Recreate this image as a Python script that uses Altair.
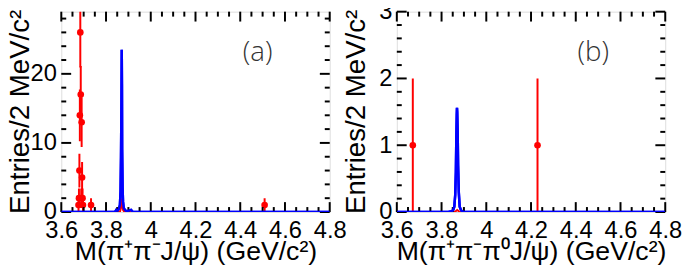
import altair as alt
import pandas as pd

# ---------------- data ----------------
# panel (a): M(pi+ pi- J/psi) data points (bin centre, entries)
a_x = [3.677, 3.679, 3.681, 3.683, 3.685, 3.687, 3.689, 3.691, 3.693, 3.695, 3.697, 3.733, 4.509]
a_n = [1, 2, 6, 14, 26, 17, 2, 13, 5, 2, 1, 1, 1]
# panel (b): M(pi+ pi- pi0 J/psi) data points
b_x = [3.6715, 4.229]
b_n = [1, 1]

# blue signal shape, panel (a)
blue_a_x = [3.600, 3.840, 3.846, 3.852, 3.858, 3.862, 3.865, 3.867, 3.869, 3.8703, 3.8712,
            3.872, 3.874, 3.876, 3.879, 3.884, 3.892, 3.912, 3.920, 4.800]
blue_a_y = [0, 0, 0.3, 0.2, 0.5, 1.0, 3.0, 8.0, 16.0, 23.5, 18.5,
            9.0, 3.5, 1.5, 0.6, 0.3, 0.1, 0.3, 0, 0]
# red curve, panel (a)
red_a_x = [3.600, 3.862, 3.866, 3.869, 3.871, 3.873, 3.876, 3.882, 4.800]
red_a_y = [0, 0, 0.5, 1.5, 1.9, 1.2, 0.3, 0, 0]

# blue signal shape, panel (b)
blue_b_x = [3.600, 3.830, 3.845, 3.852, 3.857, 3.861, 3.864, 3.866, 3.868, 3.869, 3.870,
            3.872, 3.874, 3.877, 3.881, 3.888, 3.900, 4.800]
blue_b_y = [0, 0, 0.01, 0.03, 0.08, 0.25, 0.6, 1.1, 1.45, 1.56, 1.5,
            1.2, 0.7, 0.3, 0.08, 0.02, 0, 0]
# red curve, panel (b)
red_b_x = [3.600, 3.860, 3.866, 3.870, 3.874, 3.880, 4.800]
red_b_y = [0, 0, 0.02, 0.03, 0.02, 0, 0]

# axis ticks
x_major = [3.6, 3.8, 4.0, 4.2, 4.4, 4.6, 4.8]
x_minor = [3.65, 3.7, 3.75, 3.85, 3.9, 3.95, 4.05, 4.1, 4.15, 4.25, 4.3, 4.35,
           4.45, 4.5, 4.55, 4.65, 4.7, 4.75]
ya_major = [0, 10, 20]
ya_minor = [2, 4, 6, 8, 12, 14, 16, 18, 22, 24, 26, 28]
yb_major = [0, 1, 2, 3]
yb_minor = [0.2, 0.4, 0.6, 0.8, 1.2, 1.4, 1.6, 1.8, 2.2, 2.4, 2.6, 2.8]

W, H = 272, 203
FONT = "Liberation Sans"
RED = "#ff0000"
BLUE = "#0000ff"


def panel(px, pn, bx, by, rx, ry, ymaj, ymin, ymax, label, xtitle):
    pts = pd.DataFrame({"x": px, "y": pn})
    pts["lo"] = pts["y"] - pts["y"] ** 0.5
    pts["hi"] = pts["y"] + pts["y"] ** 0.5
    blue = pd.DataFrame({"x": bx, "y": by})
    red = pd.DataFrame({"x": rx, "y": ry})

    xs = alt.Scale(domain=[3.6, 4.8], nice=False, zero=False)
    ys = alt.Scale(domain=[0, ymax], nice=False)
    xaxis = alt.Axis(values=x_major, format=".1~f", title=xtitle, grid=False, ticks=False,
                     domain=False, labelFontSize=24, labelFont=FONT, labelColor="black",
                     labelFlush=False, labelOverlap=False, labelPadding=7,
                     titleFont=FONT, titleFontSize=27, titleFontWeight="normal",
                     titleColor="black", titleX=W / 2, titleY=48, titleAlign="center",
                     titleBaseline="alphabetic")
    yaxis = alt.Axis(values=ymaj, format=".1~f", title="Entries/2 MeV/c²", grid=False,
                     ticks=False, domain=False, labelFontSize=24, labelFont=FONT,
                     labelColor="black", labelFlush=False, labelOverlap=False,
                     labelPadding=5, titleFont=FONT, titleFontSize=28,
                     titleFontWeight="normal", titleColor="black", titleX=-33,
                     titleY=101, titleAngle=270, titleAlign="center",
                     titleBaseline="alphabetic")

    X = lambda f: alt.X(f, type="quantitative", scale=xs, axis=xaxis)
    Y = lambda f: alt.Y(f, type="quantitative", scale=ys, axis=yaxis)

    err = alt.Chart(pts).mark_rule(color=RED, strokeWidth=2, clip=True).encode(
        x=X("x"), y=Y("lo"), y2="hi")
    dots = alt.Chart(pts).mark_circle(color=RED, size=45, opacity=1, clip=True).encode(
        x=X("x"), y=Y("y"))
    redl = alt.Chart(red).mark_line(color=RED, strokeWidth=2, clip=True).encode(
        x=X("x"), y=Y("y"))
    bluel = alt.Chart(blue).mark_line(color=BLUE, strokeWidth=2.5, clip=True).encode(
        x=X("x"), y=Y("y"))

    layers = [err, dots, bluel, redl]
    xmaj = pd.DataFrame({"v": x_major})
    xmin = pd.DataFrame({"v": x_minor})
    ymj = pd.DataFrame({"v": ymaj})
    ymn = pd.DataFrame({"v": ymin})
    for df, L in ((xmaj, 10), (xmin, 5)):
        layers.append(alt.Chart(df).mark_rule(color="black", strokeWidth=2).encode(
            x=X("v"), y=alt.value(H), y2=alt.value(H - L)))
        layers.append(alt.Chart(df).mark_rule(color="black", strokeWidth=2).encode(
            x=X("v"), y=alt.value(0), y2=alt.value(L)))
    for df, L in ((ymj, 10), (ymn, 5)):
        layers.append(alt.Chart(df).mark_rule(color="black", strokeWidth=2).encode(
            y=Y("v"), x=alt.value(0), x2=alt.value(L)))
        layers.append(alt.Chart(df).mark_rule(color="black", strokeWidth=2).encode(
            y=Y("v"), x=alt.value(W), x2=alt.value(W - L)))
    # re-draw blue line over the bottom frame
    layers.append(bluel)
    txt = alt.Chart(pd.DataFrame({"t": [label]})).mark_text(
        font="Open Sans", fontSize=28, fontWeight=300, color="#333333",
        align="center", baseline="middle").encode(
        text="t:N", x=alt.value(199), y=alt.value(42))
    layers.append(txt)
    return alt.layer(*layers).properties(width=W, height=H)


pa = panel(a_x, a_n, blue_a_x, blue_a_y, red_a_x, red_a_y, ya_major, ya_minor, 29,
           "(a)", "M(π⁺π⁻J/ψ) (GeV/c²)")
pb = panel(b_x, b_n, blue_b_x, blue_b_y, red_b_x, red_b_y, yb_major, yb_minor, 3,
           "(b)", "M(π⁺π⁻π⁰J/ψ) (GeV/c²)")

chart = alt.hconcat(pa, pb, spacing=68, bounds="flush").properties(
    padding={"left": -2, "top": -11, "right": 0, "bottom": -1}
).configure_view(stroke="black", strokeWidth=2).configure(background="white")

chart.save("out.html", embed_options={"renderer": "svg", "actions": False})
